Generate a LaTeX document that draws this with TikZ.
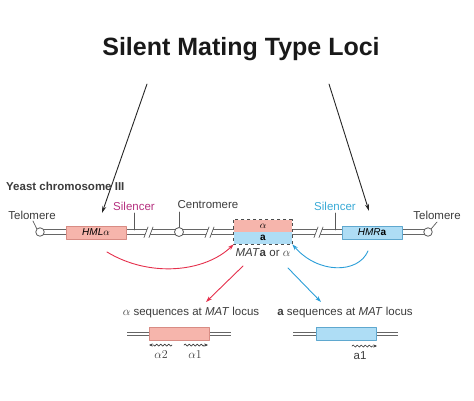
\documentclass[tikz,border=0pt]{standalone}
\usepackage{fontspec}
\setmainfont{Liberation Sans}
\usetikzlibrary{arrows.meta,decorations.pathmorphing,positioning}

\definecolor{pinkfill}{HTML}{F6B5AC}
\definecolor{pinkedge}{HTML}{D88C84}
\definecolor{bluefill}{HTML}{AEDDF5}
\definecolor{blueedge}{HTML}{5FA8CF}
\definecolor{silmagenta}{HTML}{B5307F}
\definecolor{silcyan}{HTML}{3AAAD6}
\definecolor{swapred}{HTML}{E5304C}
\definecolor{swapblue}{HTML}{2B9ED8}
\definecolor{textgray}{HTML}{3C3C3C}

\begin{document}
\begin{tikzpicture}[x=1pt, y=-1pt, >=Stealth, line cap=round, line join=round]

% --- Global TikZ Styles ---
\tikzset{
    chromo/.style={
        draw=gray!80!black,
        line width=0.9pt,
        double=white,
        double distance=3.8pt,
        line cap=butt
    },
    smallchromo/.style={
        draw=gray!80!black,
        line width=0.8pt,
        double=white,
        double distance=2.4pt,
        line cap=butt
    },
    pinkbox/.style={
        rectangle,
        draw=pinkedge,
        fill=pinkfill,
        line width=0.7pt,
        minimum width=60pt,
        minimum height=13pt,
        inner sep=0pt
    },
    bluebox/.style={
        rectangle,
        draw=blueedge,
        fill=bluefill,
        line width=0.7pt,
        minimum width=60pt,
        minimum height=13pt,
        inner sep=0pt
    },
    endcircle/.style={
        circle,
        draw=gray!70!black,
        fill=white,
        line width=0.8pt,
        minimum size=8.5pt,
        inner sep=0pt
    },
    lbl/.style={
        text=textgray,
        font=\fontsize{11.5}{13}\selectfont,
        inner sep=1pt
    },
    tick/.style={
        draw=gray!70!black,
        line width=0.7pt
    },
    pointer/.style={
        draw=black!85,
        line width=0.9pt,
        -{Stealth[length=7pt,width=4pt]}
    },
    redswap/.style={
        draw=swapred,
        line width=0.9pt,
        -{Stealth[length=6pt,width=4pt]}
    },
    blueswap/.style={
        draw=swapblue,
        line width=0.9pt,
        -{Stealth[length=6pt,width=4pt]}
    },
    wavy/.style={
        draw=textgray,
        line width=0.7pt,
        decorate,
        decoration={snake, amplitude=1pt, segment length=4pt, post length=3.5pt},
        -{Stealth[length=3.5pt,width=3pt]}
    }
}

\useasboundingbox (0,0) rectangle (474,400);

% --- Titel ---
\node[font=\fontsize{25}{30}\selectfont\bfseries, text=black!90] (title) at (241,49)
    {Silent Mating Type Loci};

\node[lbl, font=\fontsize{11.5}{13}\selectfont\bfseries, anchor=west] (yeast) at (5,186)
    {Yeast chromosome III};

% --- Dubbele lijn ---
\coordinate (chrL) at (40,232);
\coordinate (chrR) at (428,232);
\draw[chromo] (chrL) -- (chrR);

% --- Chromosoom: elementen ---
\node[endcircle] (telL) at (chrL) {};
\node[endcircle] (telR) at (chrR) {};
\node[endcircle, minimum size=9pt] (centro) at (179,232) {};

\node[pinkbox] (hml) at (96,232.5) {\textit{HML}$\alpha$};
\node[bluebox] (hmr) at (372,232.5) {\textit{HMR}\textbf{a}};

\node[pinkbox, draw=none, minimum width=58pt, minimum height=12pt] (matalpha) at (263,226)
    {$\alpha$};
\node[bluebox, draw=none, minimum width=58pt, minimum height=12pt] (mata) at (263,238)
    {\textbf{a}};

% --- Breuken in de lijn ---
\foreach \bx in {149,210,319} {
    \fill[white] (\bx-5,237.5) -- (\bx-1,227) -- (\bx+4,227) -- (\bx,237.5) -- cycle;
    \draw[tick] (\bx-5,237.5) -- (\bx-1,227);
    \draw[tick] (\bx,237.5) -- (\bx+4,227);
}

% --- MAT-locus omlijning ---
\draw[gray!60!black, dashed, line width=0.8pt, line cap=butt]
    (matalpha.north west) rectangle (mata.south east);

% --- Labels op de chromosoom ---
\node[lbl] (telLlbl) at (32,215) {Telomere};
\node[lbl] (telRlbl) at (437,215) {Telomere};
\node[lbl, text=silmagenta] (silL) at (134,206) {Silencer};
\node[lbl, text=silcyan] (silR) at (335,206) {Silencer};
\node[lbl] (centrolbl) at (208,205) {Centromere};
\node[lbl] (matlbl) at (263,253) {\textit{MAT}\textbf{a} or $\alpha$};

\draw[tick] (33,221) -- (telL.north west);
\draw[tick] (437,222) -- (telR.north east);
\draw[tick] (134,213) -- (134,230);
\draw[tick] (335,213) -- (335,230);
\draw[tick] (179,212) -- (centro.north);

% --- Zwarte pijlen vanaf de titel ---
\coordinate (hmltop) at (147,84);
\coordinate (hmlhead) at (102,213);
\coordinate (hmrtop) at (329,84);
\coordinate (hmrhead) at (369,211);
\draw[pointer] (hmltop) -- (hmlhead);
\draw[pointer] (hmrtop) -- (hmrhead);

% --- Kopieerpijlen naar MAT ---
\coordinate (hmlout) at (107,252);
\coordinate (hmrout) at (368,251);
\draw[redswap] (hmlout) .. controls (150,278) and (205,272) .. (mata.south west);
\draw[blueswap] (hmrout) .. controls (358,274) and (318,274) .. (mata.south east);

% --- Onderste loci ---
\node[lbl] (alphaseq) at (191,313) {$\alpha$ sequences at \textit{MAT} locus};
\node[lbl] (aseq) at (345,313) {\textbf{a} sequences at \textit{MAT} locus};

\coordinate (redfrom) at (243,266);
\coordinate (bluefrom) at (288,268);
\draw[redswap] (redfrom) -- (206,302);
\draw[blueswap] (bluefrom) -- (321,302);

\coordinate (alphaL) at (127,334);
\coordinate (alphaR) at (231,334);
\draw[smallchromo] (alphaL) -- (alphaR);
\node[pinkbox] (alphabox) at (179,333.5) {};

\coordinate (aL) at (293,334);
\coordinate (aR) at (398,334);
\draw[smallchromo] (aL) -- (aR);
\node[bluebox] (abox) at (346,333.5) {};

% --- Transcripten ---
\draw[wavy] (172,345) -- (149,345);
\draw[wavy] (184,345) -- (208,345);
\draw[wavy] (352,346) -- (377,346);
\node[lbl] (alphatwo) at (161,355) {$\alpha 2$};
\node[lbl] (alphaone) at (195,355) {$\alpha 1$};
\node[lbl] (aone) at (360,356) {a1};

\end{tikzpicture}
\end{document}
